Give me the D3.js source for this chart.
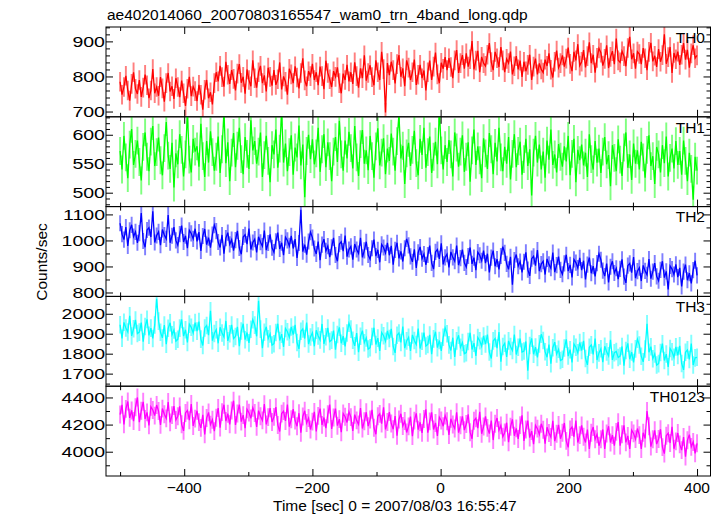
<!DOCTYPE html>
<html><head><meta charset="utf-8">
<script src="https://cdn.jsdelivr.net/npm/d3@7"></script>
<style>
body{margin:0;background:#fff;}
svg{display:block;}
text{font-family:"Liberation Sans",Arial,Helvetica,sans-serif;fill:#000;}
</style>
</head><body>
<svg id="c" width="724" height="516"></svg>
<script>
// ---- data ----
const binStart = -500, binStep = 3;   // time bins (sec)
const seriesNames = ["TH0","TH1","TH2","TH3","TH0123"];
const seriesErr = [28, 24, 31, 44, 66];   // 1-sigma error (counts/sec)

const th0 = [
785,748,770,802,760,731,779,812,765,750,
790,742,768,805,775,738,760,821,752,770,
745,798,766,728,781,810,757,772,736,795,
770,741,788,752,716,765,799,744,771,758,
730,776,748,705,762,790,738,755,720,781,
812,786,830,798,771,842,805,779,818,793,
760,808,835,782,799,751,820,790,772,846,
795,768,812,830,781,803,757,825,799,774,
818,776,792,840,763,800,785,748,822,806,
781,829,797,766,810,852,789,772,815,801,
836,790,812,775,828,801,764,845,810,792,
770,815,799,826,781,752,808,790,833,786,
812,779,840,801,768,823,795,860,788,810,
832,798,775,846,812,790,870,821,697,838,
804,842,818,780,835,861,799,823,772,846,
825,790,812,848,776,805,833,795,817,760,
812,845,790,828,868,806,781,839,822,855,
818,852,827,795,846,875,810,838,861,822,
866,828,849,901,820,845,873,812,856,838,
830,862,895,841,818,870,852,827,884,846,
812,850,838,871,806,829,858,820,845,799,
842,815,833,862,790,828,851,806,837,820,
811,848,830,866,819,797,842,874,825,838,
860,828,851,882,836,815,870,846,892,831,
842,875,826,858,897,838,862,811,853,880,
868,831,850,889,824,856,872,835,908,846,
840,872,858,829,881,913,849,866,822,871,
864,835,881,852,818,870,896,843,859,827,
878,842,861,920,836,855,884,810,867,849,
871,833,862,895,848,876,825,866,889,852,
860];

const th1 = [
572,540,598,561,525,583,610,548,567,590,
553,521,579,604,562,537,588,615,546,570,
595,556,530,577,622,564,541,586,509,568,
549,601,574,528,566,638,557,535,593,571,
580,545,619,563,527,589,552,606,570,538,
562,597,534,575,640,551,587,520,569,603,
544,581,612,558,532,596,567,541,625,573,
589,550,571,604,527,565,598,555,518,582,
566,609,543,576,641,552,585,537,570,599,
531,578,561,616,547,583,492,572,600,558,
592,549,568,612,536,575,601,544,587,563,
520,571,596,553,624,566,538,590,559,605,
577,542,615,561,529,584,608,550,573,539,
598,563,526,580,611,547,569,594,532,576,
555,602,571,538,589,636,559,581,515,568,
586,546,574,607,551,530,593,565,612,543,
570,597,534,562,588,549,645,573,540,582,
553,591,566,528,604,578,545,571,599,536,
562,587,519,573,609,548,580,556,525,594,
568,541,603,575,532,586,554,612,561,537,
579,550,596,523,567,601,544,572,588,531,
558,593,546,575,495,569,598,552,583,540,
571,526,590,557,609,548,566,535,584,562,
545,580,554,598,530,567,593,518,574,556,
583,547,569,527,601,558,540,589,552,576,
534,571,596,549,565,511,582,560,537,592,
557,529,578,604,543,566,522,585,550,573,
540,588,561,526,574,599,546,563,515,579,
566,535,582,551,597,528,560,576,542,589,
548,572,531,590,555,520,569,541,488,562,
538];

const th2 = [
1066,1024,1003,1051,979,1039,1060,1015,1033,991,
1028,1105,998,974,1040,1049,1013,1112,992,1019,
1033,982,1042,1021,1006,1098,991,1018,1051,1000,
982,1024,1057,994,1018,970,1039,1027,1006,1045,
996,1032,960,1017,1044,984,1011,972,1023,1059,
1036,994,973,1021,949,1009,1030,985,1003,961,
1001,1037,971,947,1013,1022,986,1046,965,992,
1005,954,1014,993,978,1038,963,990,1023,972,
955,997,1030,967,991,943,1012,1000,979,1018,
969,1005,933,990,1118,957,984,945,996,1032,
1011,969,948,996,924,984,1005,960,978,936,
974,1010,944,920,986,995,959,1019,938,965,
977,926,986,965,950,1010,935,962,995,944,
928,970,1003,940,964,916,985,973,952,991,
943,979,907,964,991,931,958,919,970,1006,
981,939,918,966,894,954,975,930,948,906,
944,980,914,890,956,965,929,989,908,935,
947,896,956,935,920,980,905,932,965,914,
898,940,973,910,934,886,955,943,922,961,
913,949,877,934,961,901,928,889,940,976,
952,910,889,937,830,925,946,901,919,877,
918,954,888,864,930,939,903,963,882,909,
920,869,929,908,893,953,878,905,938,887,
870,912,945,882,906,858,927,915,894,933,
886,922,850,907,934,874,901,862,913,949,
926,884,863,911,839,899,920,875,893,851,
891,927,861,837,903,912,876,936,855,882,
895,844,904,883,868,928,853,880,913,862,
845,887,920,857,881,812,902,890,869,908,
859,895,823,880,907,847,874,835,886,922,
866];

const th3 = [
1945,1877,1957,1929,1909,1990,1889,1925,1969,1901,
1908,1956,1860,1936,1972,1892,1928,1876,1944,2075,
1963,1907,1879,1943,1847,1927,1955,1895,1919,1863,
1872,1928,1972,1888,1920,1856,1948,1932,1904,1956,
1913,1961,1873,1841,1929,1941,1893,2015,1865,1901,
1920,1852,1932,1904,1884,1964,1864,1900,1944,1876,
1886,1934,1838,1914,1950,1870,1906,1854,1922,1970,
1943,1887,2065,1923,1827,1907,1935,1875,1899,1843,
1850,1906,1950,1866,1898,1834,1926,1910,1882,1934,
1896,1944,1856,1824,1912,1924,1876,1956,1848,1884,
1905,1837,1917,1889,1869,1949,1849,1885,1929,1861,
1868,1916,1820,1896,1932,1852,1888,1836,1904,1952,
1923,1867,1839,1903,1807,1887,1915,1855,1879,1823,
1830,1886,1930,1846,1878,1814,1906,1890,1862,1914,
1876,1924,1836,1804,1892,1904,1856,1936,1828,1864,
1882,1814,1894,1866,1846,1926,1826,1862,1906,1838,
1846,1894,1798,1874,1910,1830,1866,1814,1882,1930,
1900,1844,1816,1880,1784,1864,1892,1832,1856,1800,
1805,1861,1905,1821,1853,1789,1881,1865,1837,1889,
1848,1896,1808,1776,1864,1876,1828,1908,1760,1836,
1852,1784,1864,1836,1816,1896,1796,1832,1876,1808,
1813,1861,1715,1841,1877,1797,1833,1781,1849,1897,
1866,1810,1782,1846,1750,1830,1858,1798,1822,1766,
1772,1828,1872,1788,1820,1756,1848,1832,1804,1856,
1816,1864,1776,1744,1832,1844,1796,1876,1768,1804,
1825,1757,1837,1809,1789,1869,1769,1805,1811,1781,
1788,1836,1740,1816,1852,1772,1808,1756,1824,1872,
1843,1787,1759,1823,1950,1807,1835,1775,1799,1743,
1750,1806,1850,1766,1798,1734,1826,1810,1782,1834,
1791,1839,1751,1719,1807,1819,1771,1851,1743,1779,
1782];

const th0123 = [
4274,4346,4202,4316,4370,4250,4304,4226,4328,4400,
4218,4302,4368,4242,4290,4194,4332,4308,4266,4344,
4300,4198,4318,4276,4246,4366,4216,4270,4336,4234,
4262,4334,4202,4154,4286,4304,4232,4352,4190,4244,
4302,4218,4176,4272,4128,4248,4290,4200,4236,4152,
4250,4322,4178,4292,4346,4226,4280,4202,4304,4376,
4198,4282,4348,4222,4270,4174,4312,4288,4246,4324,
4285,4183,4303,4261,4231,4351,4201,4255,4321,4219,
4257,4329,4197,4149,4281,4299,4227,4347,4185,4239,
4314,4230,4188,4284,4140,4260,4302,4212,4248,4164,
4222,4294,4150,4264,4318,4198,4252,4174,4276,4348,
4168,4252,4318,4192,4240,4144,4282,4258,4216,4294,
4255,4153,4273,4231,4201,4321,4171,4225,4291,4189,
4237,4309,4177,4129,4261,4279,4207,4327,4165,4219,
4292,4208,4166,4262,4118,4238,4280,4190,4226,4142,
4187,4259,4115,4229,4283,4163,4217,4139,4241,4313,
4140,4224,4290,4164,4212,4116,4254,4230,4188,4266,
4225,4123,4243,4201,4171,4291,4141,4195,4261,4159,
4204,4276,4144,4096,4228,4246,4174,4294,4132,4186,
4260,4176,4134,4230,4086,4206,4248,4158,4194,4110,
4142,4214,4070,4184,4238,4118,4172,4094,4196,4268,
4080,4164,4230,4104,4152,4056,4194,4170,4128,4206,
4162,4060,4180,4138,4108,4228,4078,4132,4198,4096,
4140,4212,4080,4032,4164,4182,4110,4230,4068,4122,
4194,4110,4068,4164,4020,4140,4182,4092,4128,4044,
4092,4164,4020,4134,4188,4068,4122,4044,4146,4218,
4045,4129,4195,4069,4117,4021,4159,4135,4093,4171,
4122,4020,4140,4098,4300,4188,4038,4092,4158,4056,
4094,4166,4034,3986,4118,4136,4064,4184,4022,4076,
4138,4054,4012,4108,3964,4084,4126,4036,4072,3988,
4062];

const seriesValues = [th0, th1, th2, th3, th0123];
const times = th0.map((_, i) => binStart + i * binStep);

// axis settings
const xDomain = [-522, 421];
const xMajor = [-400, -200, 0, 200, 400];
const xMinor = [-500, -300, -100, 100, 300];
const yDomains = [[685, 941], [476, 631], [785, 1130], [1637, 2087], [3821, 4483]];
const yMajor = [[700, 800, 900], [500, 550, 600], [800, 900, 1000, 1100], [1700, 1800, 1900, 2000], [4000, 4200, 4400]];
const yMinorStep = [20, 10, 50, 50, 100];
const colors = ["#ff0000", "#00ff00", "#0000ff", "#00ffff", "#ff00ff"];

const titleText = "ae402014060_20070803165547_wam0_trn_4band_long.qdp";
const xLabelText = "Time [sec] 0 = 2007/08/03 16:55:47";
const yLabelText = "Counts/sec";

// ---- layout ----
const left = 106, right = 710.5, top0 = 27, panelH = 89.8;
const svg = d3.select("#c");
const x = d3.scaleLinear().domain(xDomain).range([left, right]);
const fs = 15.5;
const barW = x(binStep) - x(0);

svg.append("text").attr("x", 107).attr("y", 20).attr("font-size", fs).text(titleText);

seriesNames.forEach((name, i) => {
  const top = top0 + i * panelH, bottom = top + panelH;
  const y = d3.scaleLinear().domain(yDomains[i]).range([bottom, top]);
  const vals = seriesValues[i], err = seriesErr[i], col = colors[i];

  svg.append("clipPath").attr("id", "clip" + i)
    .append("rect").attr("x", left).attr("y", top).attr("width", right - left).attr("height", panelH);
  const g = svg.append("g").attr("clip-path", `url(#clip${i})`);

  g.selectAll("line.err").data(vals).join("line").attr("class", "err")
    .attr("x1", (d, j) => x(times[j])).attr("x2", (d, j) => x(times[j]))
    .attr("y1", d => y(d - err)).attr("y2", d => y(d + err))
    .attr("stroke", col).attr("stroke-opacity", 0.5).attr("stroke-width", barW);

  g.append("path").datum(vals)
    .attr("d", d3.line().x((d, j) => x(times[j])).y(d => y(d)))
    .attr("fill", "none").attr("stroke", col).attr("stroke-width", 1.3);

  const [d0, d1] = yDomains[i];
  const st = yMinorStep[i];
  const minor = d3.range(Math.ceil(d0 / st) * st, d1, st).filter(v => !yMajor[i].includes(v));
  const axisG = svg.append("g").attr("class", "ax");
  const strip = s => s.call(a => a.select(".domain").remove());
  axisG.append("g").attr("transform", `translate(${left},0)`)
    .call(d3.axisLeft(y).tickValues(yMajor[i]).tickSize(-7).tickFormat("")).call(strip);
  axisG.append("g").attr("transform", `translate(${left},0)`)
    .call(d3.axisLeft(y).tickValues(minor).tickSize(-4).tickFormat("")).call(strip);
  axisG.append("g").attr("transform", `translate(${right},0)`)
    .call(d3.axisRight(y).tickValues(yMajor[i]).tickSize(-7).tickFormat("")).call(strip);
  axisG.append("g").attr("transform", `translate(${right},0)`)
    .call(d3.axisRight(y).tickValues(minor).tickSize(-4).tickFormat("")).call(strip);
  axisG.append("g").attr("transform", `translate(0,${top})`)
    .call(d3.axisTop(x).tickValues(xMajor).tickSize(-7).tickFormat("")).call(strip);
  axisG.append("g").attr("transform", `translate(0,${top})`)
    .call(d3.axisTop(x).tickValues(xMinor).tickSize(-4).tickFormat("")).call(strip);
  axisG.append("g").attr("transform", `translate(0,${bottom})`)
    .call(d3.axisBottom(x).tickValues(xMajor).tickSize(-7).tickFormat("")).call(strip);
  axisG.append("g").attr("transform", `translate(0,${bottom})`)
    .call(d3.axisBottom(x).tickValues(xMinor).tickSize(-4).tickFormat("")).call(strip);

  svg.append("rect").attr("x", left).attr("y", top).attr("width", right - left).attr("height", panelH)
    .attr("fill", "none").attr("stroke", "#000").attr("stroke-width", 1);

  svg.selectAll(null).data(yMajor[i]).join("text")
    .attr("transform", v => `translate(105,${y(v) + 5.5}) scale(1.26,1)`)
    .attr("text-anchor", "end").attr("font-size", fs).text(v => v);

  svg.append("text").attr("x", 705).attr("y", top + 15.7).attr("text-anchor", "end")
    .attr("font-size", fs).text(name);

  if (i === seriesNames.length - 1) {
    svg.selectAll(null).data(xMajor).join("text")
      .attr("x", v => x(v)).attr("y", bottom + 16.7).attr("text-anchor", "middle")
      .attr("font-size", fs).text(v => d3.format("")(v));
  }
});
svg.selectAll(".ax line").attr("stroke", "#000").attr("stroke-width", 1);

svg.append("text").attr("x", 273).attr("y", 510.5).attr("font-size", fs).text(xLabelText);
svg.append("text").attr("transform", "translate(47,262) rotate(-90)").attr("text-anchor", "middle")
  .attr("font-size", fs).text(yLabelText);
</script>
</body></html>
